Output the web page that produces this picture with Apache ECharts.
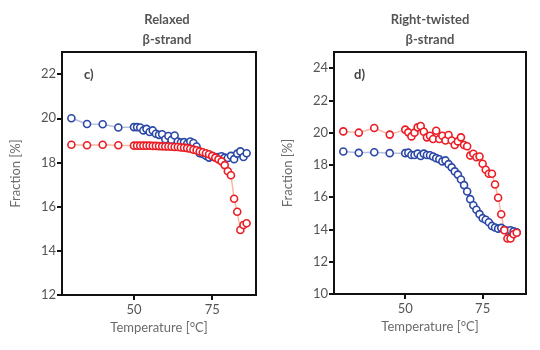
<!DOCTYPE html>
<html>
<head>
<meta charset="utf-8">
<script src="https://cdn.jsdelivr.net/npm/echarts@6/dist/echarts.min.js"></script>
<style>
  html, body { margin: 0; padding: 0; background: #fff; }
  #chart { width: 540px; height: 350px; }
</style>
</head>
<body>
<div id="chart"></div>
<script>
// temperatures (°C) shared by both panels
const temps = [30, 35, 40, 45,
  50, 51, 52, 53, 54, 55, 56, 57, 58, 59, 60, 61, 62, 63, 64, 65, 66, 67, 68,
  69, 70, 71, 72, 73, 74, 75, 76, 77, 78, 79, 80, 81, 82, 83, 84, 85, 86];

// panel c) relaxed beta-strand
const relaxedBlue = [20.0, 19.74, 19.73, 19.58,
  19.6, 19.6, 19.58, 19.45, 19.52, 19.38, 19.45, 19.3, 19.25, 19.28, 19.05, 19.2,
  19.02, 19.22, 18.95, 18.9, 18.92, 18.85, 18.95, 18.88, 18.72, 18.42, 18.38, 18.3,
  18.22, 18.28, 18.25, 18.25, 18.28, 18.22, 18.2, 18.3, 18.15, 18.4, 18.5, 18.25, 18.42];
const relaxedRed = [18.8, 18.78, 18.8, 18.78,
  18.76, 18.76, 18.76, 18.76, 18.76, 18.76, 18.75, 18.75, 18.74, 18.73, 18.72, 18.72,
  18.71, 18.7, 18.7, 18.68, 18.67, 18.65, 18.62, 18.58, 18.55, 18.5, 18.46, 18.42,
  18.37, 18.3, 18.22, 18.14, 18.05, 17.88, 17.6, 17.42, 16.36, 15.77, 14.94, 15.17, 15.25];

// panel d) right-twisted beta-strand
const twistedBlue = [18.83, 18.75, 18.79, 18.73,
  18.73, 18.76, 18.62, 18.62, 18.7, 18.55, 18.7, 18.62, 18.6, 18.52, 18.42, 18.35,
  18.22, 18.28, 18.05, 17.85, 17.6, 17.4, 17.1, 16.75, 16.35, 15.88, 15.5, 15.22,
  14.95, 14.7, 14.6, 14.45, 14.22, 14.12, 14.05, 14.1, 13.98, 13.92, 13.95, 13.88, 13.82];
const twistedRed = [20.08, 20.0, 20.29, 19.88,
  20.19, 20.02, 19.77, 20.0, 20.33, 20.41, 20.06, 19.71, 19.81, 19.61, 20.12, 19.61,
  19.81, 19.51, 19.86, 19.51, 19.24, 19.46, 19.71, 19.24, 19.16, 18.58, 18.69, 18.48,
  18.52, 18.07, 17.7, 17.45, 17.45, 16.79, 15.97, 14.94, 13.95, 13.44, 13.44, 13.7, 13.8];

const xTicks = [50, 75];
const yTicksRelaxed = [12, 14, 16, 18, 20, 22];
const yTicksTwisted = [10, 12, 14, 16, 18, 20, 22, 24];
const panelTitles = ['Relaxed\nβ-strand', 'Right-twisted\nβ-strand'];
const panelLabels = ['c)', 'd)'];

const FONT = 'Lato, "Noto Sans", sans-serif';
const BLUE = '#2b48a6', BLUE_LINE = '#b6bde2';
const RED = '#ec1c24', RED_LINE = '#f7b9a4';

function pairs(ys) {
  return temps.map((t, i) => [t, ys[i]]);
}

function xAxis(gridIndex) {
  return {
    type: 'value', gridIndex, min: 27, max: 89,
    name: 'Temperature [°C]', nameLocation: 'middle', nameGap: 25,
    nameTextStyle: { color: '#6b6b6b', fontSize: 13, fontFamily: FONT },
    axisLine: { lineStyle: { color: '#111', width: 2 } },
    axisTick: { customValues: xTicks, length: 5, lineStyle: { color: '#111', width: 2 } },
    axisLabel: { customValues: xTicks, color: '#555', fontSize: 13, fontFamily: FONT, margin: 8 },
    splitLine: { show: false }
  };
}

function yAxis(gridIndex, min, max, ticks) {
  return {
    type: 'value', gridIndex, min, max,
    name: 'Fraction [%]', nameLocation: 'middle', nameGap: 40,
    nameTextStyle: { color: '#6b6b6b', fontSize: 13, fontFamily: FONT },
    axisLine: { show: true, lineStyle: { color: '#111', width: 2 } },
    axisTick: { show: true, customValues: ticks, length: 5, lineStyle: { color: '#111', width: 2 } },
    axisLabel: { customValues: ticks, color: '#555', fontSize: 13, fontFamily: FONT, margin: 6 },
    splitLine: { show: false }
  };
}

function series(idx, ys, color, lineColor) {
  return {
    type: 'line', xAxisIndex: idx, yAxisIndex: idx,
    data: pairs(ys),
    symbol: 'circle', symbolSize: 7,
    itemStyle: { color: '#fff', borderColor: color, borderWidth: 1.6 },
    lineStyle: { color: lineColor, width: 1.5 },
    animation: false
  };
}

const chart = echarts.init(document.getElementById('chart'));
chart.setOption({
  backgroundColor: '#fff',
  title: [
    { text: panelTitles[0], left: 162, top: 5, textAlign: 'center',
      textStyle: { fontSize: 13, fontWeight: 'bold', color: '#555', lineHeight: 20, fontFamily: FONT } },
    { text: panelTitles[1], left: 425, top: 5, textAlign: 'center',
      textStyle: { fontSize: 13, fontWeight: 'bold', color: '#555', lineHeight: 20, fontFamily: FONT } },
    { text: panelLabels[0], left: 79, top: 63,
      textStyle: { fontSize: 13, fontWeight: 'bold', color: '#444', fontFamily: FONT } },
    { text: panelLabels[1], left: 349, top: 63,
      textStyle: { fontSize: 13, fontWeight: 'bold', color: '#444', fontFamily: FONT } }
  ],
  grid: [
    { left: 62, top: 52, width: 194, height: 243, show: true, borderColor: '#111', borderWidth: 2 },
    { left: 334, top: 52, width: 192, height: 242, show: true, borderColor: '#111', borderWidth: 2 }
  ],
  xAxis: [xAxis(0), xAxis(1)],
  yAxis: [yAxis(0, 12, 23, yTicksRelaxed), yAxis(1, 10, 25, yTicksTwisted)],
  series: [
    series(0, relaxedBlue, BLUE, BLUE_LINE),
    series(0, relaxedRed, RED, RED_LINE),
    series(1, twistedBlue, BLUE, BLUE_LINE),
    series(1, twistedRed, RED, RED_LINE)
  ]
});
</script>
</body>
</html>
